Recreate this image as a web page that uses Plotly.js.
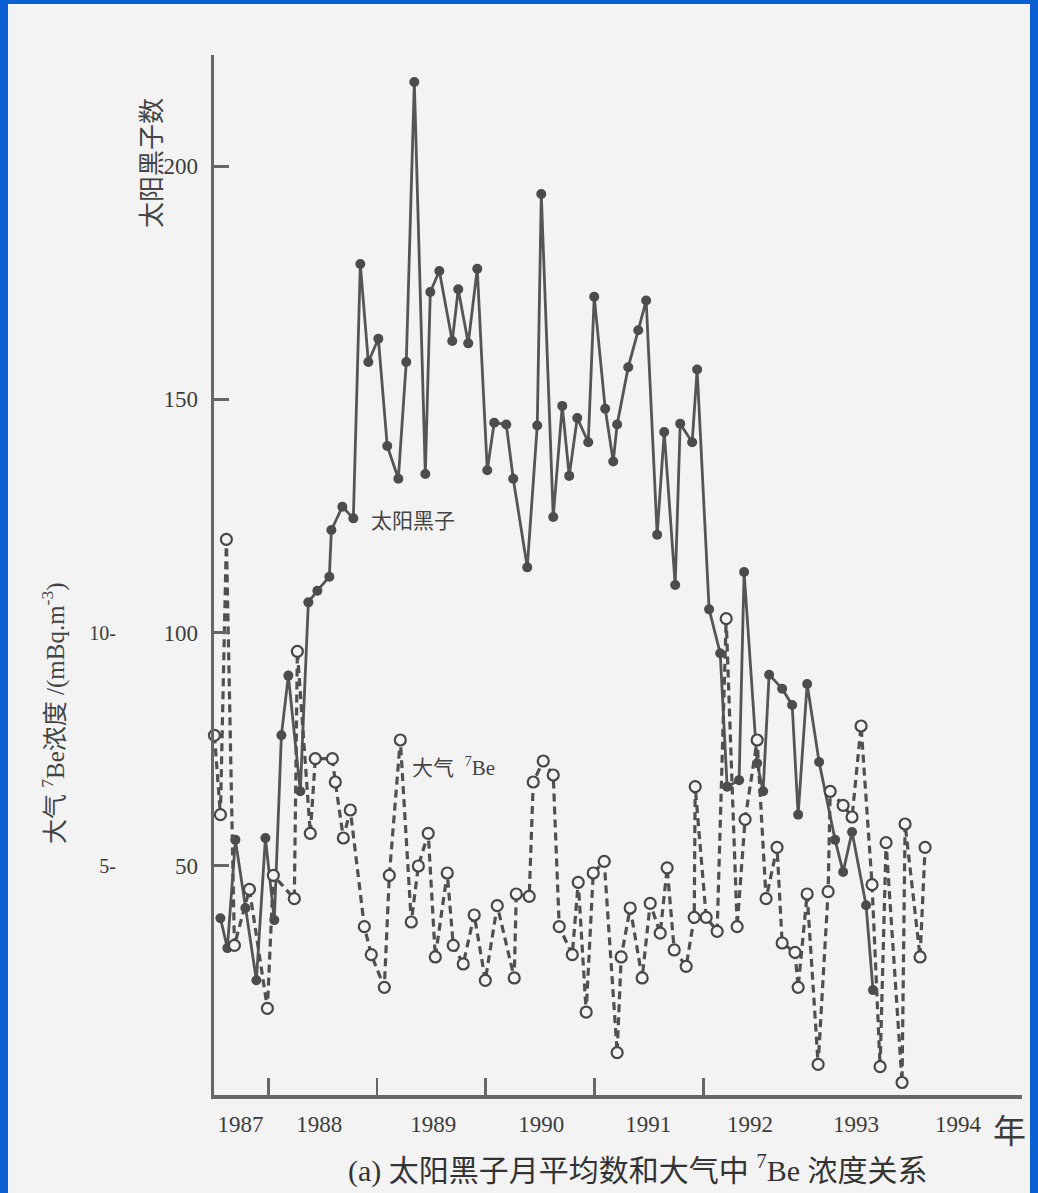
<!DOCTYPE html>
<html>
<head>
<meta charset="utf-8">
<script src="https://cdn.plot.ly/plotly-3.0.1.min.js"></script>
<style>
  html, body { margin: 0; padding: 0; background: #f3f3f3; }
  #chart { width: 1038px; height: 1193px; }
  .edge { position: absolute; background: #0a5fd2; }
</style>
</head>
<body>
<div id="chart"></div>
<div class="edge" style="left:0;top:0;width:8px;height:1193px;"></div>
<div class="edge" style="left:0;top:0;width:1038px;height:4px;"></div>
<div class="edge" style="left:1030px;top:0;width:8px;height:1193px;"></div>
<script>
// ---- data ----
// Monthly mean sunspot number
const sunYear = [1987.059,1987.123,1987.197,1987.289,1987.390,1987.473,1987.555,1987.620,1987.684,1987.794,
  1987.868,1987.951,1988.061,1988.080,1988.181,1988.282,1988.346,1988.420,1988.512,1988.594,
  1988.696,1988.769,1988.843,1988.944,1988.990,1989.073,1989.192,1989.247,1989.339,1989.422,
  1989.514,1989.578,1989.689,1989.753,1989.882,1989.974,1990.011,1990.121,1990.204,1990.268,
  1990.342,1990.443,1990.498,1990.599,1990.673,1990.709,1990.811,1990.903,1990.976,1991.077,
  1991.142,1991.243,1991.289,1991.399,1991.445,1991.555,1991.657,1991.721,1991.831,1991.877,
  1991.997,1992.052,1992.107,1992.227,1992.319,1992.374,1992.457,1992.567,1992.714,1992.788,
  1992.870,1992.999,1993.063];
const sunCount = [38.8,32.4,55.6,41,25.5,56,38.4,78,90.8,66,
  106.5,109,112,122,127,124.5,179,158,163,140,
  133,158,218,134,173,177.5,162.5,173.6,162,178,
  134.8,145,144.6,133,114,144.4,194,124.8,148.6,133.6,
  146,140.8,172,148,136.7,144.6,156.9,164.8,171.2,121,
  143,110.2,144.8,140.8,156.4,105,95.6,67,68.4,113,
  72,66,91,88,84.5,61,89,72.3,55.6,48.7,
  57.3,41.6,23.4];

// Atmospheric 7Be concentration, mBq/m^3
const beYear = [1987.004,1987.059,1987.114,1987.188,1987.326,1987.491,1987.546,1987.739,1987.767,1987.886,
  1987.932,1988.089,1988.116,1988.190,1988.254,1988.383,1988.447,1988.567,1988.613,1988.714,
  1988.815,1988.880,1988.971,1989.036,1989.146,1989.201,1989.293,1989.394,1989.496,1989.606,
  1989.762,1989.781,1989.900,1989.937,1990.029,1990.121,1990.176,1990.296,1990.351,1990.424,
  1990.489,1990.590,1990.709,1990.746,1990.829,1990.939,1991.013,1991.105,1991.169,1991.234,
  1991.344,1991.418,1991.427,1991.528,1991.629,1991.712,1991.813,1991.886,1991.997,1992.079,
  1992.180,1992.227,1992.345,1992.374,1992.457,1992.558,1992.650,1992.669,1992.788,1992.870,
  1992.953,1993.054,1993.128,1993.183,1993.330,1993.358,1993.496,1993.542];
const beConc = [7.8,6.1,12.0,3.3,4.5,1.95,4.8,4.3,9.6,5.7,
  7.3,7.3,6.8,5.6,6.2,3.7,3.1,2.4,4.8,7.7,
  3.8,5.0,5.7,3.05,4.85,3.3,2.9,3.95,2.55,4.15,
  2.6,4.4,4.35,6.8,7.25,6.95,3.7,3.1,4.65,1.87,
  4.85,5.1,1.0,3.05,4.1,2.6,4.2,3.56,4.96,3.2,
  2.85,3.9,6.7,3.9,3.6,10.3,3.7,6.0,7.7,4.3,
  5.4,3.35,3.15,2.4,4.4,0.75,4.45,6.6,6.3,6.05,
  8.0,4.6,0.7,5.5,0.36,5.9,3.05,5.4];

const yearLabels = ['1987','1988','1989','1990','1991','1992','1993','1994'];
const yearLabelPos = [1987.243,1987.969,1989.017,1990.010,1990.994,1991.932,1992.907,1993.845];
const midYearTicks = [1987.5,1988.5,1989.5,1990.5,1991.5];
const sunTicks = [50,100,150,200];
const beTicks = [5,10];
const beTickText = ['5-','10-'];

// ---- layout helpers (pixel -> paper) ----
const L = 214, R = 1022, T = 55, B = 1095;
const W = R - L, H = B - T;
const px = v => (v - L) / W;
const py = v => (B - v) / H;

const INK = '#4c4c4c';
const BG = '#f3f3f3';
const serif = 'Liberation Serif, Noto Sans CJK SC, serif';
const cjk = 'Liberation Serif, Noto Sans CJK SC, sans-serif';

const traces = [
  {
    x: beYear, y: beConc, yaxis: 'y2', type: 'scatter', mode: 'lines+markers',
    line: {color: '#505050', width: 3.2, dash: '8px,5px'},
    marker: {symbol: 'circle', size: 11, color: BG, line: {color: '#474747', width: 2.2}},
    cliponaxis: false, hoverinfo: 'x+y'
  },
  {
    x: sunYear, y: sunCount, type: 'scatter', mode: 'lines+markers',
    line: {color: '#555555', width: 2.8},
    marker: {symbol: 'circle', size: 10, color: INK},
    cliponaxis: false, hoverinfo: 'x+y'
  }
];

const layout = {
  width: 1038, height: 1193,
  margin: {l: L, r: 1038 - R, t: T, b: 1193 - B},
  paper_bgcolor: BG, plot_bgcolor: BG,
  showlegend: false,
  xaxis: {
    range: [1987, 1987 + (R - 213.6) / 108.75],
    tickmode: 'array', tickvals: yearLabelPos, ticktext: yearLabels,
    ticks: '', showgrid: false, zeroline: false,
    showline: true, linecolor: '#676767', linewidth: 4,
    tickfont: {family: serif, size: 23, color: '#3c3c3c'},
    ticklabelstandoff: 5,
    minor: {tickmode: 'array', tickvals: midYearTicks, ticks: 'inside', ticklen: 17, tickwidth: 2.8, tickcolor: '#666', showgrid: false}
  },
  yaxis: {
    range: [0.92, 223.8],
    tickmode: 'array', tickvals: sunTicks,
    ticks: 'inside', ticklen: 15, tickwidth: 3, tickcolor: '#666',
    showgrid: false, zeroline: false,
    showline: true, linecolor: '#676767', linewidth: 3.5,
    tickfont: {family: serif, size: 23, color: '#3c3c3c'},
    ticklabelstandoff: 8
  },
  yaxis2: {
    overlaying: 'y', side: 'left',
    range: [0.092, 22.38],
    tickmode: 'array', tickvals: beTicks, ticktext: beTickText,
    ticks: '', showgrid: false, zeroline: false, showline: false,
    tickfont: {family: serif, size: 20, color: '#3c3c3c'},
    ticklabelstandoff: 97
  },
  annotations: [
    {xref: 'paper', yref: 'paper', x: px(153), y: py(163), text: '太阳黑子数', textangle: -90,
     showarrow: false, font: {family: cjk, size: 26, color: '#444'}, xanchor: 'center', yanchor: 'middle'},
    {xref: 'paper', yref: 'paper', x: px(53), y: py(713), text: '大气 <sup>7</sup>Be浓度 /(mBq.m<sup>-3</sup>)', textangle: -90,
     showarrow: false, font: {family: cjk, size: 25, color: '#444'}, xanchor: 'center', yanchor: 'middle'},
    {xref: 'paper', yref: 'paper', x: px(413), y: py(521), text: '太阳黑子',
     showarrow: false, font: {family: cjk, size: 21, color: '#444'}, xanchor: 'center', yanchor: 'middle'},
    {xref: 'paper', yref: 'paper', x: px(453), y: py(766), text: '大气  <sup>7</sup>Be',
     showarrow: false, font: {family: cjk, size: 21, color: '#444'}, xanchor: 'center', yanchor: 'middle'},
    {xref: 'paper', yref: 'paper', x: px(1009), y: py(1132), text: '年',
     showarrow: false, font: {family: cjk, size: 33, color: '#3c3c3c'}, xanchor: 'center', yanchor: 'middle'},
    {xref: 'paper', yref: 'paper', x: px(638), y: py(1168), text: '(a) 太阳黑子月平均数和大气中 <sup>7</sup>Be 浓度关系',
     showarrow: false, font: {family: cjk, size: 30, color: '#333'}, xanchor: 'center', yanchor: 'middle'}
  ]
};

Plotly.newPlot('chart', traces, layout, {staticPlot: true, displayModeBar: false});
</script>
</body>
</html>
